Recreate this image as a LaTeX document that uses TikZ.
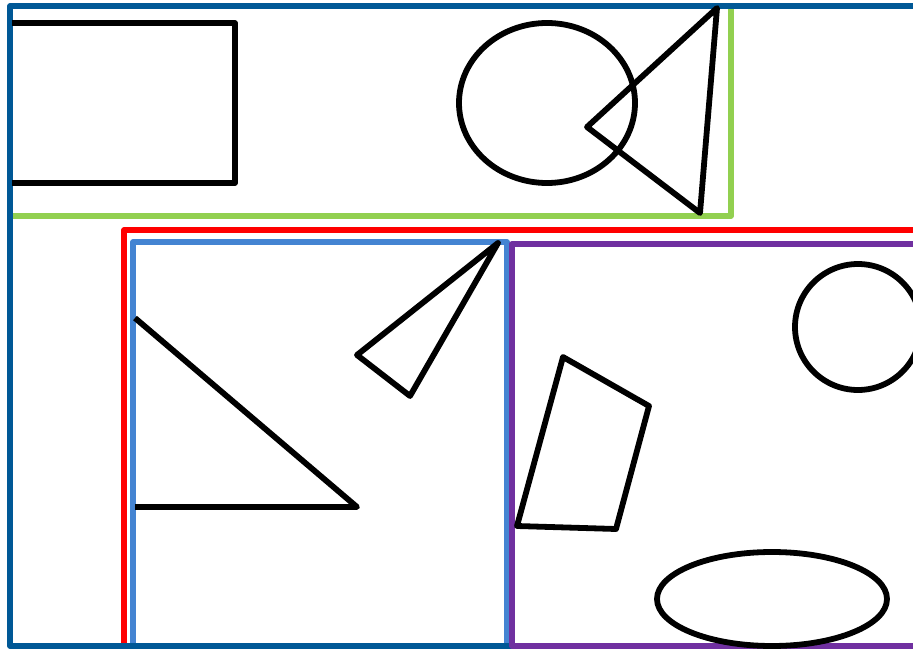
\documentclass[tikz,border=0pt]{standalone}
\definecolor{frameblue}{RGB}{0,88,150}
\definecolor{boxgreen}{RGB}{146,208,80}
\definecolor{boxred}{RGB}{255,0,0}
\definecolor{boxblue}{RGB}{68,132,210}
\definecolor{boxpurple}{RGB}{112,48,160}
\tikzset{
  outline/.style={draw=black,line width=3.3pt,line join=round},
  frame/.style={line width=3pt,line join=round}
}
\begin{document}
\begin{tikzpicture}[x=.2mm,y=-.2mm]
  \useasboundingbox (0,0) rectangle (913,649);
  \clip (0,0) rectangle (913,649);
  % nested frames
  \draw[frame,boxgreen] (731,4)--(731,216)--(12,216);
  \draw[frame,boxred] (124,646)--(124,230)--(940,230);
  \draw[frame,boxblue] (133,646)--(133,242)--(507,242)--(507,646);
  \draw[frame,frameblue] (10,6) rectangle (940,646);
  \draw[frame,boxpurple] (512,244) rectangle (940,646);
  % top row
  \draw[outline] (12,23) -- (235,23) -- (235,183) -- (12,183);
  \draw[outline] (547,103) ellipse (88 and 80);
  \draw[outline] (717,8) -- (587,127) -- (700,213) -- cycle;
  % left box
  \draw[outline] (135,318) -- (357,507) -- (135,507);
  \draw[outline] (498,243) -- (357,355) -- (410,396) -- cycle;
  % right box
  \draw[outline] (563,357) -- (649,406) -- (616,529) -- (517,526) -- cycle;
  \draw[outline] (858,327) circle (63);
  \draw[outline] (772,599) ellipse (115 and 47);
\end{tikzpicture}
\end{document}
